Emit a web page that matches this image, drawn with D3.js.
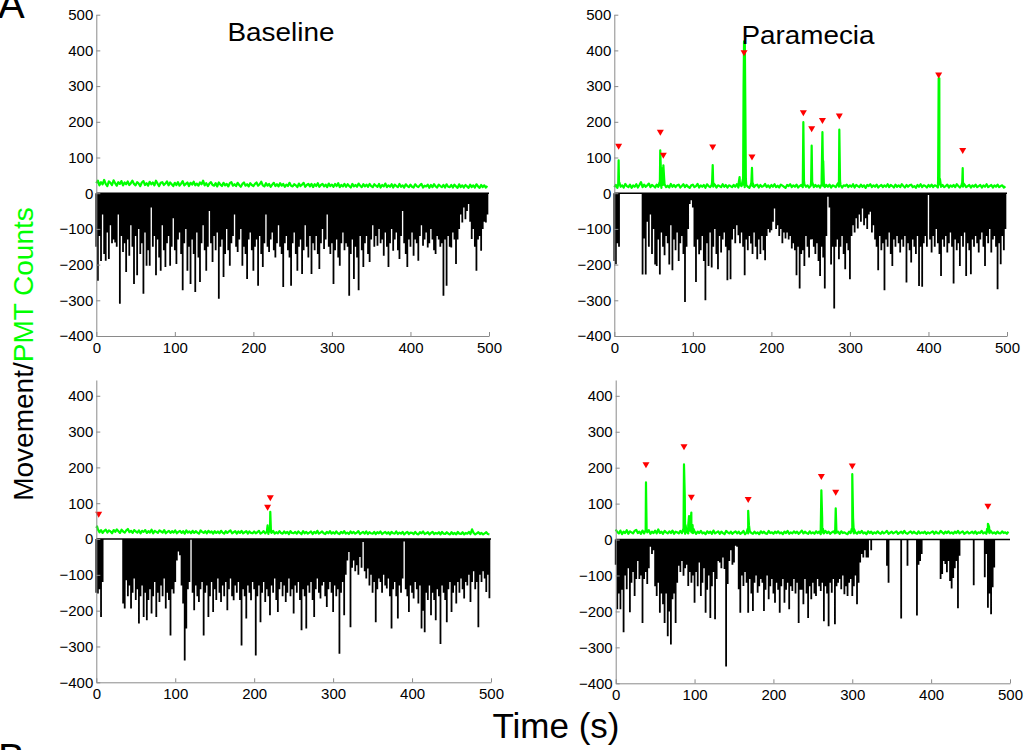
<!DOCTYPE html>
<html><head><meta charset="utf-8">
<script src="https://cdn.jsdelivr.net/npm/d3@7"></script>
<style>
body{margin:0;background:#fff}
text{font-family:"Liberation Sans",Arial,Helvetica,sans-serif}
</style>
</head><body>
<svg id="c" width="1028" height="750"></svg>
<script>
// ---------------- DATA ----------------
const sampleStep = 2; // seconds between samples of the arrays below
const xTicks = [0,100,200,300,400,500];
const yTicksTop = [-400,-300,-200,-100,0,100,200,300,400,500];
const yTicksBottom = [-400,-300,-200,-100,0,100,200,300,400];
const panelTitles = ["Baseline","Paramecia"];
const yLabelParts = ["Movement/","PMT Counts"];
const xLabel = "Time (s)";

// Movement (plotted downward), one value every 2 s
const moveTL = [
150,245,120,190,60,170,189,110,184,90,
140,130,138,150,60,310,120,165,140,221,
130,175,90,150,254,120,230,100,170,140,
282,110,203,160,203,40,150,120,230,130,
180,217,90,160,207,140,120,203,150,70,
160,198,130,110,170,272,140,100,217,150,
254,130,170,277,110,180,249,140,90,160,
217,150,50,140,193,120,160,110,296,150,
130,235,170,100,160,203,140,120,60,150,
165,130,100,203,150,170,240,130,110,160,
217,150,130,259,120,170,207,140,60,150,
165,130,110,160,180,140,90,150,170,263,
140,120,160,180,259,140,110,170,217,150,
130,226,160,90,150,180,120,226,140,160,
120,170,212,140,100,156,130,60,150,170,
140,254,160,130,180,203,140,110,160,140,
150,287,170,130,240,150,180,272,120,160,
207,140,120,170,193,130,90,150,120,147,
100,140,130,175,110,150,207,140,100,161,
130,110,160,184,120,50,140,170,207,130,
150,110,175,130,140,189,120,90,147,130,
110,152,140,100,130,160,170,120,130,150,
140,287,130,259,120,150,152,110,130,198,
130,100,60,82,40,73,50,30,80,128,
100,150,217,130,120,161,100,80,82,60];

const moveTR = [
190,199,140,150,0,0,0,0,0,0,
0,0,0,0,0,0,0,0,228,127,
228,80,150,60,170,100,200,204,130,228,
110,150,174,120,140,200,90,216,130,160,
110,190,140,120,170,305,150,100,30,20,
40,150,249,130,171,160,120,190,300,140,
204,110,208,150,100,170,213,120,166,130,
110,150,244,160,241,130,100,140,90,118,
140,110,150,230,130,160,120,141,170,110,
150,185,130,170,120,160,188,120,100,110,
104,80,43,100,90,120,100,140,110,127,
110,130,120,155,140,160,230,150,267,170,
160,204,120,150,180,130,129,150,170,140,
190,232,150,180,267,120,10,40,200,150,
323,150,130,185,150,120,170,213,140,160,
241,120,90,110,70,99,60,80,43,90,
70,100,60,52,110,90,130,150,216,120,
160,140,272,130,150,110,170,204,130,150,
120,140,166,130,150,120,250,140,160,194,
130,150,170,120,260,150,262,140,120,150,
5,130,166,120,150,100,140,170,232,130,
150,120,166,140,110,150,253,130,160,140,
204,120,150,110,232,140,160,227,130,150,
120,140,166,130,110,150,204,120,140,100,
166,130,120,150,269,140,199,120,160,100];

const moveBL = [
150,152,140,218,120,0,0,0,0,0,
0,0,0,0,0,0,0,180,194,115,
160,130,194,150,110,170,140,236,160,130,
218,150,227,170,140,208,160,120,218,150,
176,130,160,110,194,150,170,269,140,152,
120,60,35,45,130,180,339,250,140,120,
0,150,199,130,160,176,140,120,269,150,
130,218,160,120,204,140,170,110,150,176,
130,160,120,199,140,110,160,171,130,150,
120,170,297,140,160,222,130,150,171,120,
140,325,160,130,232,150,120,176,140,160,
213,130,150,110,170,204,140,120,160,130,
176,150,110,160,140,208,130,150,120,170,
255,140,160,250,130,150,120,170,218,140,
110,150,166,130,120,160,190,140,120,150,
204,130,160,140,320,150,120,213,100,60,
36,246,80,60,90,73,100,50,80,8,
90,110,82,130,100,150,120,232,140,110,
120,150,100,130,138,110,160,250,140,120,
160,222,130,150,110,7,140,160,204,130,
150,166,120,140,180,130,250,200,260,150,
170,130,213,150,170,227,140,160,293,130,
150,170,232,140,120,204,150,130,180,120,
150,110,140,166,120,130,100,176,120,90,
140,120,246,100,120,90,110,148,100,165];

const moveBR = [
70,194,150,194,140,258,100,138,80,202,
120,90,157,110,60,110,100,232,110,90,
124,80,20,40,30,130,157,120,204,150,
180,232,150,269,200,292,166,150,232,120,
73,90,60,101,80,70,129,90,120,100,
176,90,130,64,157,120,80,204,140,100,
218,130,90,222,110,60,64,80,50,82,
353,124,60,30,70,64,17,20,138,204,
100,129,90,120,204,110,150,199,120,100,
148,130,110,120,199,140,100,166,130,110,
150,176,120,140,204,130,110,176,140,120,
194,130,143,110,150,120,232,140,140,180,
110,150,218,130,166,120,150,157,110,130,
143,120,227,130,150,241,120,148,110,236,
130,120,110,138,100,152,130,157,120,110,
157,130,100,180,120,64,40,50,30,50,
50,0,30,0,0,0,0,0,0,0,
0,0,73,120,0,0,0,0,0,0,
0,220,0,0,0,73,0,0,0,0,
0,211,70,60,40,0,0,0,0,0,
0,0,0,0,0,0,110,96,60,68,
91,60,115,136,107,80,60,191,45,0,
0,0,0,0,0,0,0,127,0,0,
0,0,0,0,105,40,190,150,208,133,
78,0,0,0,0,0,0,0,0,0];

// PMT counts baseline, one value every 2 s
const pmtTL = [
28,35,22,31,25,37,26,20,33,29,23,36,28,21,31,26,34,22,30,25,33,23,28,35,26,
22,31,27,20,30,34,23,28,21,32,25,30,22,35,27,20,29,31,23,27,33,22,30,25,20,
29,23,31,21,27,34,22,26,30,20,29,24,32,22,27,21,30,25,35,22,28,20,27,31,23,
21,28,19,30,24,20,29,22,26,19,28,31,21,25,20,29,23,18,26,30,21,25,19,28,23,
20,26,30,21,25,32,22,19,28,21,26,18,24,29,20,25,19,28,21,26,18,24,20,29,21,
19,25,22,17,27,20,24,29,18,23,26,19,26,17,25,20,28,18,23,26,19,24,17,27,20,
24,18,26,20,28,17,23,19,26,18,25,20,16,26,19,23,18,27,21,17,25,19,24,18,26,
20,17,25,21,18,26,16,23,19,27,17,22,18,25,16,24,20,17,26,18,22,16,25,20,17,
24,18,16,25,20,17,22,26,16,21,19,24,15,23,17,25,19,16,24,20,17,23,16,25,18,
17,23,16,24,19,15,25,17,22,16,23,19,15,24,17,22,16,25,19,15,23,17,22,16,20];

const pmtTR = [
17,23,15,25,18,22,16,26,20,17,24,15,22,18,25,16,23,31,17,24,18,22,27,17,23,
20,16,24,18,22,15,23,25,17,21,16,26,18,23,17,22,24,16,20,25,17,23,18,15,22,
24,17,20,26,16,22,18,23,15,25,20,17,23,18,24,16,22,20,17,25,18,23,16,22,20,
17,23,18,25,16,22,20,24,17,23,18,15,25,20,17,22,24,16,23,18,20,26,17,22,16,
23,18,25,17,21,16,24,21,18,15,23,20,25,17,22,18,24,16,20,23,17,25,18,22,16,
20,24,17,23,18,22,16,25,20,17,23,18,24,16,22,20,17,25,18,23,16,22,20,24,17,
22,18,25,16,23,20,17,24,18,22,15,23,20,25,17,22,18,24,16,20,23,17,22,18,25,
17,23,20,16,24,18,22,17,25,20,16,23,18,22,24,17,20,15,23,18,25,17,22,20,16,
23,18,24,17,22,20,16,25,18,23,17,20,24,16,22,18,23,17,25,20,16,22,18,24,17,
20,23,16,22,18,24,17,20,23,16,22,18,25,17,20,23,16,22,18,24,17,20,22,16,19];

const pmtBL = [
31,27,19,25,17,23,26,18,24,21,16,25,20,27,22,17,26,21,18,24,28,19,23,17,25,
21,18,24,16,23,20,25,17,22,18,26,16,23,20,17,24,21,18,25,16,20,23,17,22,18,
24,16,20,23,17,22,15,24,18,21,16,23,17,22,18,15,24,20,17,22,16,23,18,21,15,
22,17,21,16,23,18,15,22,17,21,24,16,19,22,15,21,17,23,16,19,22,15,21,17,16,
21,16,19,23,15,18,22,16,20,14,21,17,23,15,19,16,22,17,15,21,16,20,14,22,17,
16,20,15,21,17,14,22,16,20,15,18,21,14,20,16,23,15,18,21,16,14,20,16,22,15,
19,15,21,16,14,20,16,22,15,18,14,21,16,20,15,18,22,14,17,20,15,21,14,19,16,
15,20,14,19,16,21,14,17,20,15,19,13,20,16,15,21,14,18,15,20,13,17,20,14,18,
17,14,20,15,13,19,16,21,14,16,19,13,17,20,14,17,15,19,13,20,15,14,19,15,13,
19,14,17,13,20,15,14,19,13,17,15,20,14,27,17,13,16,19,14,17,13,16,19,14,13];

const pmtBR = [
28,21,17,25,15,22,18,26,16,23,20,17,24,27,18,22,16,25,17,23,20,26,16,22,18,
25,17,28,18,22,16,24,20,17,23,18,25,16,22,20,17,24,18,23,16,22,17,25,20,18,
23,16,22,18,24,17,20,15,23,18,22,16,25,17,20,23,16,22,18,15,24,20,17,22,16,
20,23,17,22,16,19,24,15,20,17,23,18,16,22,17,20,15,23,18,22,17,16,24,18,20,
16,22,18,23,17,20,15,22,18,24,16,20,17,23,18,22,16,20,25,17,22,18,16,23,17,
20,16,23,18,22,15,20,17,24,18,22,16,20,23,17,19,22,16,23,18,20,17,15,22,18,
23,17,20,16,22,18,24,17,20,15,23,18,22,16,20,17,23,18,16,22,17,20,24,16,19,
22,17,20,23,16,19,22,17,24,18,16,20,23,17,22,18,16,23,17,20,18,22,16,20,17,
20,23,16,22,18,17,24,20,16,22,18,23,17,20,16,22,18,24,17,20,23,16,19,22,17,
19,22,17,23,16,20,18,24,17,20,16,22,18,23,17,20,16,22,18,17,23,18,20,16,22];

// PMT transients: [time (s), counts]
const peaksTL = [];
const peaksTR = [[5,25],[5.5,92],[6.5,30],[57.5,30],[58.5,120],[60,70],[61.5,60],[62.5,78],[63.5,40],
  [124.5,30],[125.3,79],[126.3,28],[158.5,30],[159.5,45],[160.5,25],
  [163.8,40],[164.6,300],[165.2,425],[166.2,425],[166.8,250],[167.5,40],
  [174.5,30],[175.3,71],[176.3,28],[240,30],[240.7,199],[241.5,35],[250.6,30],[251.3,133],[252.2,30],
  [264,40],[265,171],[266,90],[266.8,30],[285.8,30],[286.5,178],[287.4,35],
  [412.3,40],[413,322],[413.8,322],[414.6,40],[443,30],[443.6,70],[444.4,28]];
const peaksBL = [[1,35],[216,20],[217,38],[218,20],[219.8,22],[220.4,76],[221.2,25]];
const peaksBR = [[37.8,25],[38.4,159],[39.2,28],[85.8,30],[86.6,209],[87.6,120],[88.6,40],
  [92,40],[93,65],[95.9,75],[97.5,40],[98.5,30],[167.4,30],[168,80],[169,40],
  [260,30],[260.8,137],[261.8,60],[262.8,30],[278.4,30],[279,87],[279.8,30],
  [299.3,30],[300,182],[301,60],[302,30],[471,30],[472,44],[473.5,35],[475,25]];

// detected-event markers: [time (s), counts]
const markersTL = [];
const markersTR = [[5.5,130],[58.6,169],[62.4,105],[125.3,128],[165.2,392],[175.3,100],
  [240.7,224],[251.3,179],[265,202],[286.5,215],[413,330],[443.6,118]];
const markersBL = [[3,68],[217,87],[220.4,114]];
const markersBR = [[38.4,207],[86.6,257],[95.9,116],[168,110],[260.8,174],[279,130],[300,203],[472,91]];

// ---------------- LAYOUT ----------------
const panels = [
  {move:moveTL, pmt:pmtTL, peaks:peaksTL, marks:markersTL, xr:[96.3,489], yd:[-400,500], yr:[336,14.7], ticks:yTicksTop},
  {move:moveTR, pmt:pmtTR, peaks:peaksTR, marks:markersTR, xr:[614.3,1007], yd:[-400,500], yr:[336,14.7], ticks:yTicksTop},
  {move:moveBL, pmt:pmtBL, peaks:peaksBL, marks:markersBL, xr:[96.3,491], yd:[-400,444], yr:[682.3,380], ticks:yTicksBottom},
  {move:moveBR, pmt:pmtBR, peaks:peaksBR, marks:markersBR, xr:[615.7,1010], yd:[-400,444], yr:[683.3,380], ticks:yTicksBottom}
];

const svg = d3.select("#c");
const GREEN = "#00ff00";
const AXIS = "#8a8a8a";

panels.forEach(p => {
  const x = d3.scaleLinear().domain([0,500]).range(p.xr);
  const y = d3.scaleLinear().domain(p.yd).range(p.yr);
  const g = svg.append("g");

  // movement spikes
  let d = "";
  p.move.forEach((v,i) => {
    if (v > 0) {
      const xx = x(i*sampleStep);
      d += `M${xx},${y(0)}V${y(-v)}`;
    }
  });
  g.append("path").attr("d", d).attr("stroke","#000").attr("stroke-width",1.8).attr("fill","none");
  g.append("line").attr("x1",x(0)).attr("x2",x(500)).attr("y1",y(0)).attr("y2",y(0))
    .attr("stroke","#000").attr("stroke-width",1.5);

  // PMT counts
  const pts = p.pmt.map((v,i)=>[i*sampleStep,v]).concat(p.peaks).sort((a,b)=>a[0]-b[0]);
  g.append("path").datum(pts)
    .attr("d", d3.line().x(q=>x(q[0])).y(q=>y(q[1])))
    .attr("stroke",GREEN).attr("stroke-width",2.2).attr("fill","none").attr("stroke-linejoin","round");

  // markers
  g.selectAll("path.mk").data(p.marks).join("path").attr("class","mk")
    .attr("d","M-3.5,-3L3.5,-3L0,3Z")
    .attr("transform",q=>`translate(${x(q[0])},${y(q[1])})`)
    .attr("fill","#ff0000");

  // axes
  const ya = g.append("g").attr("transform",`translate(${p.xr[0]},0)`)
    .call(d3.axisLeft(y).tickValues(p.ticks).tickSizeInner(-4).tickSizeOuter(0).tickPadding(3));
  const xa = g.append("g").attr("transform",`translate(0,${p.yr[0]})`)
    .call(d3.axisBottom(x).tickValues(xTicks).tickSizeInner(-4).tickSizeOuter(0).tickPadding(6));
  [ya,xa].forEach(a=>{
    a.select(".domain").attr("stroke",AXIS);
    a.selectAll(".tick line").attr("stroke",AXIS);
    a.selectAll(".tick text").attr("fill","#000").style("font-size","15px")
      .style("font-family",'"Liberation Sans",Arial,sans-serif');
  });
});

// titles
svg.append("text").attr("x",281).attr("y",41).attr("text-anchor","middle")
  .attr("font-size",25).attr("textLength",107).attr("lengthAdjust","spacingAndGlyphs").text(panelTitles[0]);
svg.append("text").attr("x",808).attr("y",44).attr("text-anchor","middle")
  .attr("font-size",26).attr("textLength",133).attr("lengthAdjust","spacingAndGlyphs").text(panelTitles[1]);

// y label
const yl = svg.append("text").attr("transform","translate(33,354) rotate(-90)")
  .attr("text-anchor","middle").attr("font-size",28);
yl.append("tspan").attr("fill","#000").text(yLabelParts[0]);
yl.append("tspan").attr("fill",GREEN).text(yLabelParts[1]);

// x label
svg.append("text").attr("x",556).attr("y",738).attr("text-anchor","middle")
  .attr("font-size",35).text(xLabel);

// panel letters (cut by the figure edge, as in the source)
svg.append("text").attr("x",-2).attr("y",18).attr("font-size",40).text("A");
svg.append("text").attr("x",-2).attr("y",772).attr("font-size",40).text("B");
</script>
</body></html>
